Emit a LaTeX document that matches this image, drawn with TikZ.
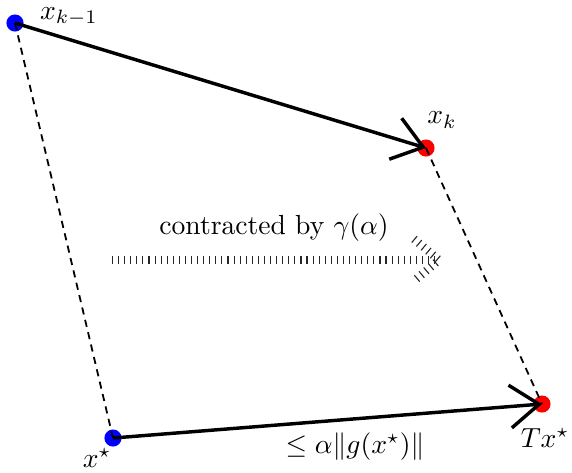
\documentclass[tikz,border=0pt]{standalone}
\usepackage{amsmath,amssymb}
\usetikzlibrary{arrows.meta}
\tikzset{
  pt/.style={circle,inner sep=0pt,minimum size=6.2pt},
  bluept/.style={pt,fill=blue},
  redpt/.style={pt,fill=red},
  mainline/.style={line width=1.25pt,-{Straight Barb[length=10.5pt,width=15.5pt,line width=1.25pt]}},
  dashline/.style={line width=0.65pt,dash pattern=on 2.6pt off 2pt},
  dotline/.style={line width=3pt,dash pattern=on 0.4pt off 1.8pt,black!85},
  lbl/.style={inner sep=0pt}
}
\begin{document}
\begin{tikzpicture}[x=0.362pt,y=-0.362pt]
\useasboundingbox (0,0) rectangle (572,472);
\node[bluept] (A) at (15,23) {};
\node[redpt] (B) at (426,148) {};
\node[bluept] (C) at (113,438) {};
\node[redpt] (D) at (542,404) {};
\draw[dashline] (A.center) -- (C.center);
\draw[dashline] (B.center) -- (D.center);
\draw[mainline] (A.center) -- (B.center);
\draw[mainline] (C.center) -- (D.center);
\node[lbl] (lA) at (69,17) {$x_{k-1}$};
\node[lbl] (lB) at (442,120) {$x_k$};
\node[lbl] (lC) at (97,458) {$x^\star$};
\node[lbl] (lD) at (545,438) {$Tx^\star$};
\node[lbl] (txt) at (274,228) {contracted by $\gamma(\alpha)$};
\node[lbl] (bnd) at (355,447) {$\leq \alpha\|g(x^\star)\|$};
\coordinate (s) at (112,260);
\coordinate (t) at (439,260);
\coordinate (h1) at (414,239);
\coordinate (h2) at (414,281);
\draw[dotline] (s) -- (t);
\draw[dotline] (h1) -- (t) -- (h2);
\end{tikzpicture}
\end{document}
